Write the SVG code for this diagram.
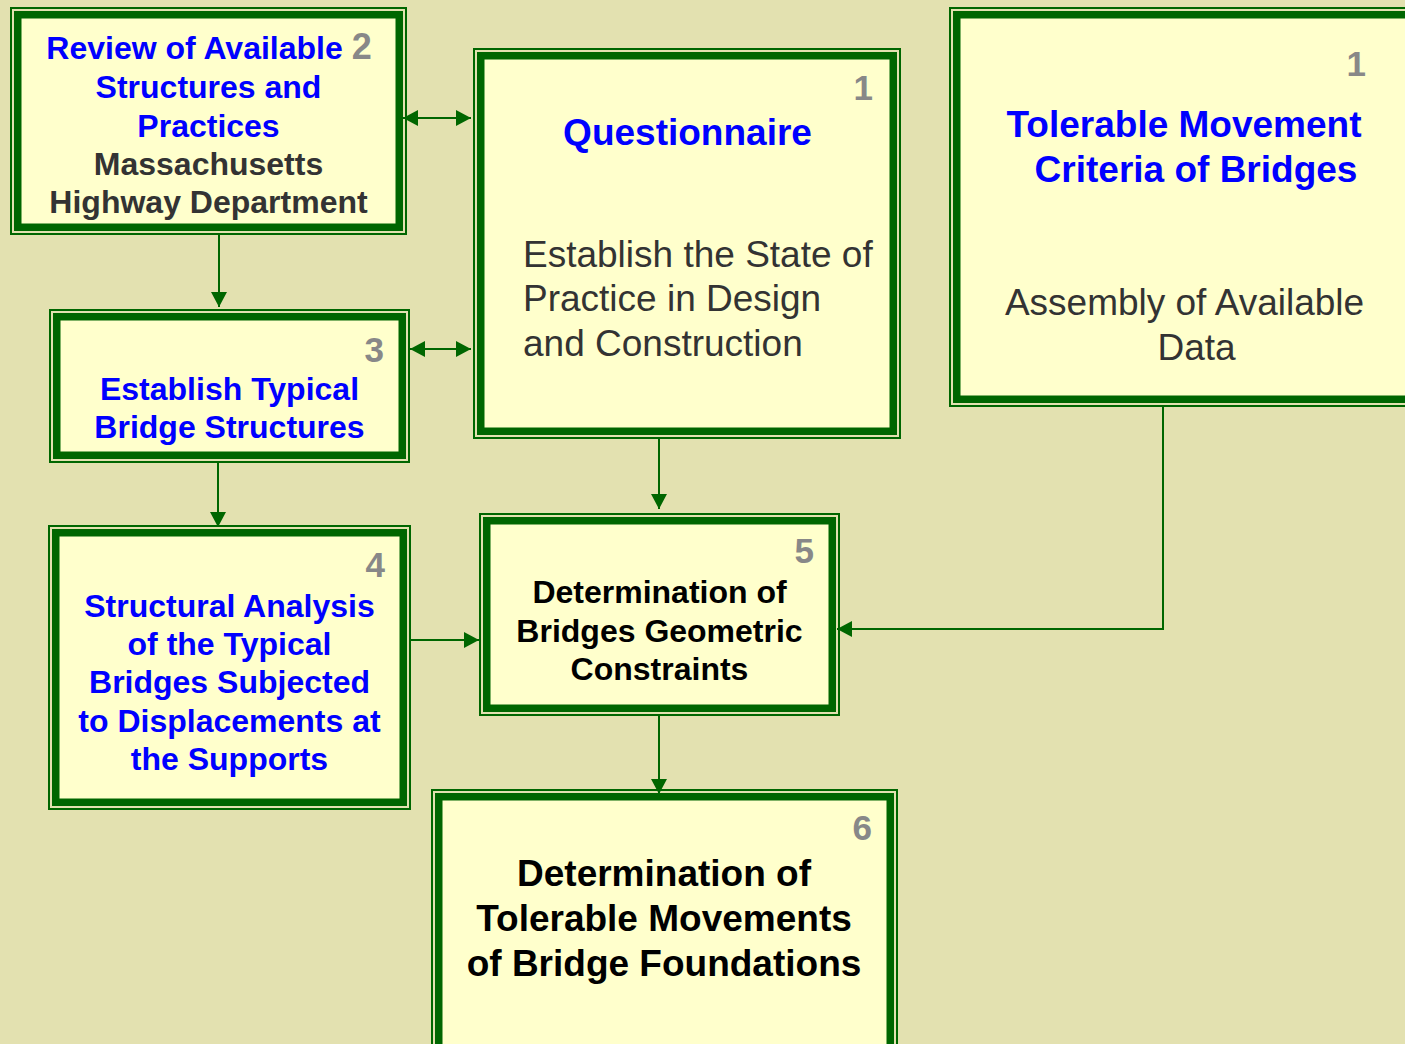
<svg xmlns="http://www.w3.org/2000/svg" width="1405" height="1044" viewBox="0 0 1405 1044">
<style>
.thin{fill:none;stroke:#006600;stroke-width:2}
.thick{fill:#FFFFCC;stroke:#006600;stroke-width:7.5}
.t{font-family:"Liberation Sans",Arial,sans-serif;font-weight:bold;text-anchor:middle}
.s{font-size:32px}
.b{font-size:37px}
.blue{fill:#0000FF}
.dk{fill:#333333}
.blk{fill:#000000}
.num{fill:#888888;font-family:"Liberation Sans",Arial,sans-serif;font-weight:bold;font-size:35px;text-anchor:end}
.reg{font-family:"Liberation Sans",Arial,sans-serif;font-size:37px;fill:#333333}
.c{fill:none;stroke:#006600;stroke-width:2}
</style>
<defs>
<marker id="ah" markerUnits="userSpaceOnUse" markerWidth="15" markerHeight="16" refX="15" refY="8" orient="auto-start-reverse">
<path d="M0,0 L15,8 L0,16 Z" fill="#006600"/>
</marker>
</defs>
<rect x="0" y="0" width="1405" height="1044" fill="#E3E1B0"/>

<g id="connectors">
<line class="c" x1="403" y1="118" x2="471" y2="118" marker-start="url(#ah)" marker-end="url(#ah)"/>
<line class="c" x1="410" y1="349" x2="471" y2="349" marker-start="url(#ah)" marker-end="url(#ah)"/>
<line class="c" x1="219" y1="235" x2="219" y2="307" marker-end="url(#ah)"/>
<line class="c" x1="218" y1="463" x2="218" y2="527" marker-end="url(#ah)"/>
<line class="c" x1="659" y1="439" x2="659" y2="509" marker-end="url(#ah)"/>
<line class="c" x1="411" y1="640" x2="479" y2="640" marker-end="url(#ah)"/>
<line class="c" x1="659" y1="716" x2="659" y2="794" marker-end="url(#ah)"/>
<path class="c" d="M1163,407 V629 H837" marker-end="url(#ah)"/>
</g>

<g id="node2">
<rect class="thin" x="11" y="8" width="395" height="226"/>
<rect class="thick" x="17.75" y="14.75" width="381.5" height="212.5"/>
<text class="t s" x="209" y="59"><tspan class="blue">Review of Available </tspan><tspan fill="#888888" font-size="36px">2</tspan></text>
<text class="t s blue" x="208.5" y="98">Structures and</text>
<text class="t s blue" x="208.5" y="137">Practices</text>
<text class="t s dk" x="208.5" y="175">Massachusetts</text>
<text class="t s dk" x="208.5" y="213">Highway Department</text>
</g>

<g id="nodeQ">
<rect class="thin" x="474" y="49" width="426" height="389"/>
<rect class="thick" x="480.75" y="55.75" width="412.5" height="375.5"/>
<text class="num" x="873" y="100">1</text>
<text class="t b blue" x="687.5" y="145">Questionnaire</text>
<text class="reg" x="523" y="267">Establish the State of</text>
<text class="reg" x="523" y="311">Practice in Design</text>
<text class="reg" x="523" y="356">and Construction</text>
</g>

<g id="node1">
<rect class="thin" x="950" y="8" width="470" height="398"/>
<rect class="thick" x="956.75" y="14.75" width="460" height="384.5"/>
<text class="num" x="1366" y="76">1</text>
<text class="t b blue" x="1184" y="137">Tolerable Movement</text>
<text class="t b blue" x="1196" y="182">Criteria of Bridges</text>
<text class="reg" x="1184.5" y="315" text-anchor="middle">Assembly of Available</text>
<text class="reg" x="1196.5" y="360" text-anchor="middle">Data</text>
</g>

<g id="node3">
<rect class="thin" x="50" y="310" width="359" height="152"/>
<rect class="thick" x="56.75" y="316.75" width="345.5" height="138.5"/>
<text class="num" x="384" y="362">3</text>
<text class="t s blue" x="229.5" y="400">Establish Typical</text>
<text class="t s blue" x="229.5" y="438">Bridge Structures</text>
</g>

<g id="node4">
<rect class="thin" x="49" y="526" width="361" height="283"/>
<rect class="thick" x="55.75" y="532.75" width="347.5" height="269.5"/>
<text class="num" x="385" y="577">4</text>
<text class="t s blue" x="229.5" y="617">Structural Analysis</text>
<text class="t s blue" x="229.5" y="655">of the Typical</text>
<text class="t s blue" x="229.5" y="693">Bridges Subjected</text>
<text class="t s blue" x="229.5" y="732">to Displacements at</text>
<text class="t s blue" x="229.5" y="770">the Supports</text>
</g>

<g id="node5">
<rect class="thin" x="480" y="514" width="359" height="201"/>
<rect class="thick" x="486.75" y="520.75" width="345.5" height="187.5"/>
<text class="num" x="814" y="563">5</text>
<text class="t s blk" x="659.5" y="603">Determination of</text>
<text class="t s blk" x="659.5" y="642">Bridges Geometric</text>
<text class="t s blk" x="659.5" y="680">Constraints</text>
</g>

<g id="node6">
<rect class="thin" x="432" y="790" width="465" height="270"/>
<rect class="thick" x="438.75" y="796.75" width="451.5" height="260"/>
<text class="num" x="872" y="840">6</text>
<text class="t b blk" x="664" y="886">Determination of</text>
<text class="t b blk" x="664" y="931">Tolerable Movements</text>
<text class="t b blk" x="664" y="976">of Bridge Foundations</text>
</g>
</svg>
